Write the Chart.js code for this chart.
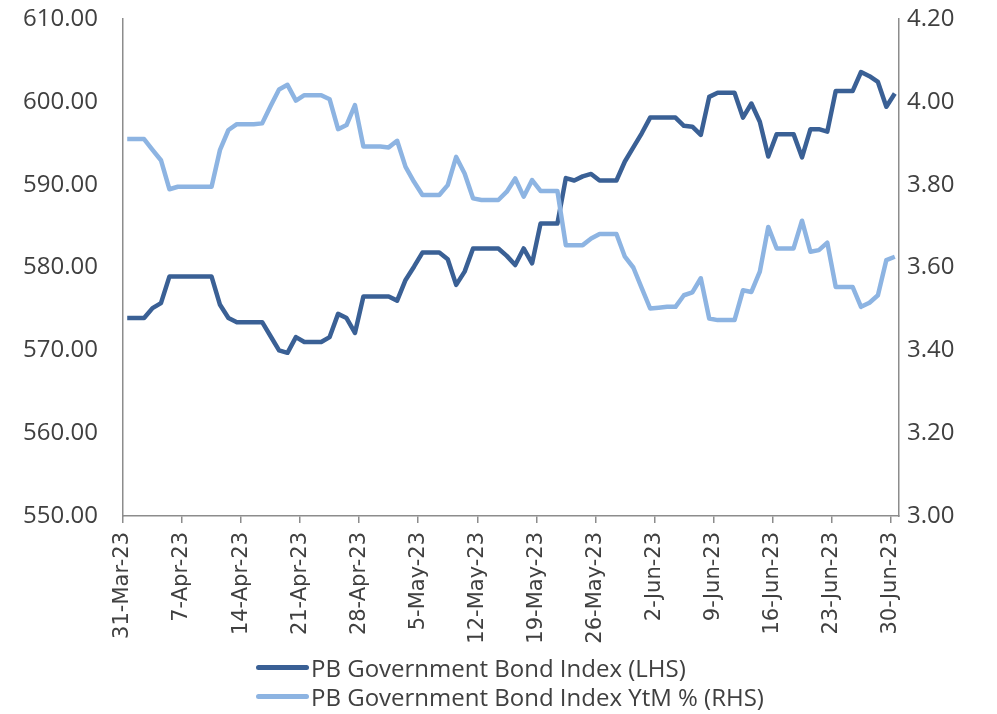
<!DOCTYPE html>
<html>
<head>
<meta charset="utf-8">
<script src="https://cdn.jsdelivr.net/npm/chart.js@4.4.0/dist/chart.umd.min.js"></script>
<style>
    body { margin: 0; background: #fff; }
    #wrap { position: relative; width: 997px; height: 714px; }
    #leyenda { position: absolute; left: 256px; top: 653px; font-family: "Open Sans", sans-serif; font-size: 24px; color: #404040; }
    .item { height: 29px; display: flex; align-items: center; white-space: nowrap; }
    .linea { width: 53px; height: 5px; border-radius: 3px; margin-right: 2px; }
</style>
</head>
<body>
<div id="wrap">
    <canvas id="chartBonos" width="997" height="714"></canvas>
    <div id="leyenda"></div>
</div>
<script>
// una etiqueta cada 7 dias, la serie es diaria desde 31-Mar-23 hasta 30-Jun-23
const etiquetasEje = ["31-Mar-23", "7-Apr-23", "14-Apr-23", "21-Apr-23", "28-Apr-23", "5-May-23",
    "12-May-23", "19-May-23", "26-May-23", "2-Jun-23", "9-Jun-23", "16-Jun-23", "23-Jun-23", "30-Jun-23"];

const indice = [
    573.9, 573.9, 573.9, 575.1, 575.7, 578.9, 578.9, 578.9, 578.9, 578.9, 578.9,
    575.5, 573.9, 573.4, 573.4, 573.4, 573.4,
    571.7, 570.0, 569.7, 571.6, 571.0, 571.0, 571.0, 571.6, 574.4, 573.9, 572.1,
    576.5, 576.5, 576.5, 576.5, 576.0, 578.5, 580.1, 581.8, 581.8, 581.8, 581.0, 577.9,
    579.5, 582.3, 582.3, 582.3, 582.3, 581.4, 580.3, 582.3, 580.5, 585.3, 585.3, 585.3,
    590.8, 590.5, 591.0, 591.3, 590.5, 590.5, 590.5, 592.8, 594.5, 596.2, 598.1, 598.1,
    598.1, 598.1, 597.1, 597.0, 596.0, 600.6, 601.1, 601.1, 601.1, 598.1, 599.8, 597.6,
    593.4, 596.1, 596.1, 596.1, 593.3, 596.7, 596.7, 596.4, 601.3, 601.3, 601.3, 603.6,
    603.1, 602.4, 599.4, 601.0
];

const ytm = [
    3.910, 3.910, 3.910, 3.884, 3.859, 3.789, 3.795, 3.795, 3.795, 3.795, 3.795,
    3.884, 3.932, 3.946, 3.946, 3.946, 3.948,
    3.990, 4.030, 4.041, 4.003, 4.016, 4.016, 4.016, 4.006, 3.934, 3.944, 3.992,
    3.892, 3.892, 3.892, 3.890, 3.906, 3.843, 3.807, 3.775, 3.775, 3.775, 3.799, 3.867,
    3.827, 3.767, 3.763, 3.763, 3.763, 3.783, 3.815, 3.771, 3.811, 3.785, 3.785, 3.785,
    3.654, 3.654, 3.654, 3.670, 3.681, 3.681, 3.681, 3.626, 3.600, 3.550, 3.501, 3.503,
    3.505, 3.505, 3.533, 3.540, 3.574, 3.477, 3.473, 3.473, 3.473, 3.545, 3.541, 3.590,
    3.698, 3.646, 3.646, 3.646, 3.713, 3.638, 3.642, 3.660, 3.553, 3.553, 3.553, 3.505,
    3.515, 3.533, 3.618, 3.626
];

const series = [
    { nombre: "PB Government Bond Index (LHS)", color: "#3A6095" },
    { nombre: "PB Government Bond Index YtM % (RHS)", color: "#8DB4E2" }
];

const colorTexto = "#404040";
const colorEje = "#8C8C8C";

// cada dia ocupa un hueco, el punto va en el centro del hueco
const puntos = arr => arr.map((v, i) => ({ x: i + 0.5, y: v }));

// sin el margen extra que chart.js reserva para medias etiquetas
const sinMargen = eje => {
    eje.paddingTop = 0;
    eje.paddingBottom = 0;
    eje.paddingLeft = 0;
    eje.paddingRight = 0;
};

const ctx = document.getElementById("chartBonos").getContext("2d");

new Chart(ctx, {
    type: "line",
    data: {
        datasets: [
            {
                label: series[0].nombre,
                data: puntos(indice),
                borderColor: series[0].color,
                yAxisID: "y",
                order: 2
            },
            {
                label: series[1].nombre,
                data: puntos(ytm),
                borderColor: series[1].color,
                yAxisID: "y1",
                order: 1
            }
        ]
    },
    options: {
        responsive: false,
        animation: false,
        layout: { padding: { top: 19, left: 0, right: 0, bottom: 0 } },
        elements: {
            point: { radius: 0 },
            line: { borderWidth: 4.5, tension: 0, borderJoinStyle: "round" }
        },
        plugins: {
            legend: { display: false },
            tooltip: { enabled: false }
        },
        scales: {
            x: {
                type: "linear",
                min: 0,
                max: 92,
                afterBuildTicks: eje => {
                    eje.ticks = etiquetasEje.map((t, i) => ({ value: i * 7 }));
                },
                afterFit: eje => { eje.height = 198; sinMargen(eje); },
                ticks: {
                    autoSkip: false,
                    minRotation: 90,
                    maxRotation: 90,
                    padding: 9,
                    color: colorTexto,
                    font: { family: "DejaVu Sans", size: 21 },
                    callback: (v, i) => etiquetasEje[i]
                },
                grid: { drawOnChartArea: false, color: colorEje, tickLength: 7, lineWidth: 1.5 },
                border: { color: colorEje, width: 1.5 }
            },
            y: {
                position: "left",
                min: 550,
                max: 610,
                afterFit: eje => { eje.width = 123; sinMargen(eje); },
                ticks: {
                    stepSize: 10,
                    padding: 25,
                    color: colorTexto,
                    font: { family: "Open Sans", size: 24 },
                    callback: v => v.toFixed(2)
                },
                grid: { display: false, drawTicks: false },
                border: { color: colorEje, width: 1.5 }
            },
            y1: {
                position: "right",
                min: 3,
                max: 4.2,
                afterFit: eje => { eje.width = 98; sinMargen(eje); },
                ticks: {
                    stepSize: 0.2,
                    padding: 8,
                    color: colorTexto,
                    font: { family: "Open Sans", size: 24 },
                    callback: v => v.toFixed(2)
                },
                grid: { display: false, drawTicks: false },
                border: { color: colorEje, width: 1.5 }
            }
        }
    }
});

// leyenda en html, un elemento por renglon como en el original
const leyenda = document.getElementById("leyenda");
series.forEach(s => {
    leyenda.innerHTML += `
        <div class="item">
            <span class="linea" style="background:${s.color}"></span>
            <span>${s.nombre}</span>
        </div>
    `;
});
</script>
</body>
</html>
